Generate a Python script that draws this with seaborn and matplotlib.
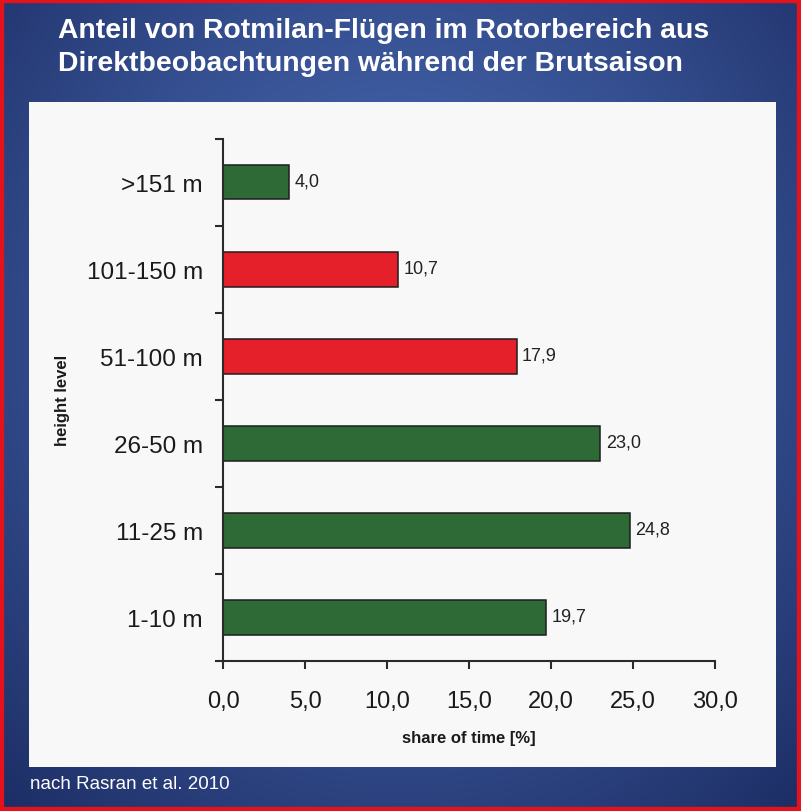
import numpy as np
import pandas as pd
import matplotlib
matplotlib.use("Agg")
import matplotlib.pyplot as plt
import seaborn as sns
from matplotlib.patches import Rectangle
from matplotlib.ticker import FuncFormatter

# ---------------- data ----------------
categories = [">151 m", "101-150 m", "51-100 m", "26-50 m", "11-25 m", "1-10 m"]
shares = [4.0, 10.7, 17.9, 23.0, 24.8, 19.7]
zones = ["outside", "rotor", "rotor", "outside", "outside", "outside"]
x_ticks = [0, 5, 10, 15, 20, 25, 30]
title_lines = ["Anteil von Rotmilan-Flügen im Rotorbereich aus",
               "Direktbeobachtungen während der Brutsaison"]
x_label = "share of time [%]"
y_label = "height level"
source = "nach Rasran et al. 2010"

sns.set_theme(style="white")
plt.rcParams["font.family"] = ["Liberation Sans", "DejaVu Sans"]

W, H = 801, 812
fig = plt.figure(figsize=(W / 100, H / 100), dpi=100)

# ---------------- background ----------------
bg = fig.add_axes([0, 0, 1, 1], zorder=0)
yy, xx = np.mgrid[0:1:H * 1j, 0:1:W * 1j]
d = np.sqrt(((xx - 0.5) / 0.7) ** 2 + ((yy - 0.42) / 0.75) ** 2)
d = np.clip(d / d.max(), 0, 1) ** 1.2
c_in = np.array([0x4c, 0x6e, 0xb8]) / 255
c_out = np.array([0x1c, 0x2d, 0x64]) / 255
img = c_in[None, None, :] * (1 - d[..., None]) + c_out[None, None, :] * d[..., None]
bg.imshow(img, extent=[0, 1, 0, 1], aspect="auto", origin="upper")
bg.set_xlim(0, 1)
bg.set_ylim(0, 1)
bg.set_axis_off()
bg.add_patch(Rectangle((29 / W, (H - 768) / H), 747 / W, 665 / H,
                       facecolor="#f8f8f9", edgecolor="none", zorder=2))
bg.add_patch(Rectangle((0, 0), 1, 1, fill=False, edgecolor="#e3121c",
                       linewidth=6, zorder=5, clip_on=False))

# ---------------- chart ----------------
ax = fig.add_axes([223 / W, (H - 662) / H, 492 / W, 522.5 / H], zorder=2)
ax.patch.set_alpha(0)

df = pd.DataFrame({"height": categories, "share": shares, "zone": zones})
sns.barplot(data=df, x="share", y="height", hue="zone",
            palette={"outside": "#2e6a36", "rotor": "#e6202a"},
            dodge=False, width=0.4, edgecolor="#1e1e1e", linewidth=1.1,
            orient="h", legend=False, saturation=1, ax=ax)

ax.set_xlim(0, 30)
ax.set_ylim(5.5, -0.5)
for s in ["top", "right"]:
    ax.spines[s].set_visible(False)
for s in ["left", "bottom"]:
    ax.spines[s].set_color("#2a2a2a")
    ax.spines[s].set_linewidth(1.5)

ax.set_xticks(x_ticks)
ax.xaxis.set_major_formatter(FuncFormatter(lambda v, p: f"{v:.1f}".replace(".", ",")))
ax.tick_params(axis="x", which="major", direction="out", length=6, width=1.5,
               color="#2a2a2a", labelsize=17, pad=15, bottom=True, labelcolor="#1a1a1a")

ax.set_yticks(range(len(categories)))
ax.set_yticklabels(categories)
ax.tick_params(axis="y", which="major", length=0, pad=14.5, labelsize=17.5,
               labelcolor="#1a1a1a")
ax.set_yticks(np.arange(-0.5, len(categories), 1), minor=True)
ax.tick_params(axis="y", which="minor", direction="out", length=6, width=1.5,
               color="#2a2a2a", left=True)

ax.set_xlabel(x_label, fontsize=12, fontweight="bold", color="#1a1a1a")
ax.xaxis.set_label_coords(0.5, -(739 - 662) / 522.5)
ax.xaxis.label.set_va("center")
ax.set_ylabel(y_label, fontsize=12, fontweight="bold", color="#1a1a1a")
ax.yaxis.set_label_coords((63 - 223) / 492, 0.5)
ax.yaxis.label.set_va("center")

for i, v in enumerate(shares):
    ax.annotate(f"{v:.1f}".replace(".", ","), xy=(v, i), xytext=(4, 1),
                textcoords="offset points", ha="left", va="center",
                fontsize=13, color="#222222")

# ---------------- titles ----------------
title_y = [31, 64]
title_texts = []
for line, ty in zip(title_lines, title_y):
    t = fig.text(58 / W, 1 - ty / H, line, color="white", fontweight="bold",
                 fontsize=22, va="center", ha="left")
    title_texts.append(t)
fig.canvas.draw()
r = fig.canvas.get_renderer()
bw = title_texts[0].get_window_extent(r).width
scale = 650 / bw
for t in title_texts:
    t.set_fontsize(22 * scale)

fig.text(30 / W, 1 - 785 / H, source, color="white", fontsize=13.5,
         va="center", ha="left")

fig.savefig("out.png", dpi=100)
